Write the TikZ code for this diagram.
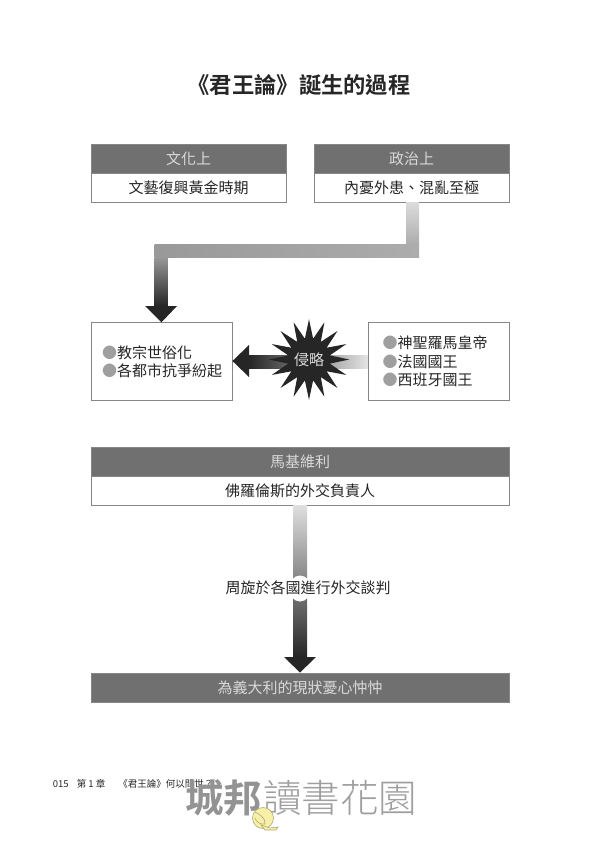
\documentclass[tikz,border=0pt]{standalone}
\usepackage{fontspec}
\setmainfont{Noto Sans CJK TC}[BoldFont=Noto Sans CJK TC Bold]
\newfontfamily\lightcjk{Noto Sans CJK TC Light}
\usetikzlibrary{shapes.geometric}
\definecolor{headgray}{HTML}{707070}
\definecolor{linegray}{HTML}{868686}
\definecolor{inkgray}{HTML}{262626}
\definecolor{snailyellow}{HTML}{F8F0A8}
\tikzset{
	headbox/.style={rectangle,fill=headgray,draw=linegray,text=white!85!black,minimum height=29pt,inner sep=0pt,font=\fontsize{15}{15}\selectfont},
	bodybox/.style={rectangle,fill=white,draw=linegray,text=inkgray,minimum height=29pt,inner sep=0pt,font=\fontsize{15}{15}\selectfont},
	listbox/.style={rectangle,fill=white,draw=linegray,text=inkgray,minimum height=78pt,align=left,font=\fontsize{15}{18.5}\selectfont},
	snailpart/.style={fill=snailyellow,draw=black!30!snailyellow,line width=0.6pt}
}
\newcommand{\bul}{{\color{gray!75}●}}
\begin{document}
\begin{tikzpicture}[x=1pt,y=-1pt,line width=0.9pt]
	\useasboundingbox (0,0) rectangle (600,841);
	\node [text=inkgray,font=\fontsize{22.3}{22.3}\bfseries\selectfont] (title) at (299,85) {《君王論》誕生的過程};

	\node [headbox,minimum width=195pt] (culturehead) at (188.5,158.5) {文化上};
	\node [bodybox,minimum width=195pt] (culture) at (188.5,188) {文藝復興黃金時期};
	\node [headbox,minimum width=195pt] (politicshead) at (411.5,158.5) {政治上};
	\node [bodybox,minimum width=195pt] (politics) at (411.5,188) {內憂外患、混亂至極};

	\node [listbox,text width=119pt,inner xsep=11pt] (church) at (161.5,361.7) {\bul 教宗世俗化\\\bul 各都市抗爭紛起};
	\node [listbox,text width=112pt,inner xsep=14.5pt] (kings) at (438.5,361.7) {\bul 神聖羅馬皇帝\\\bul 法國國王\\\bul 西班牙國王};

	\node [headbox,minimum width=418pt] (machihead) at (300,461.5) {馬基維利};
	\node [bodybox,minimum width=418pt] (machi) at (300,490.5) {佛羅倫斯的外交負責人};
	\node [headbox,minimum width=418pt] (italy) at (300,687.5) {為義大利的現狀憂心忡忡};

	\coordinate (bendright) at (412.5,250.5);
	\coordinate (bendleft) at (161,250.5);
	\shade [top color=gray!28,bottom color=gray!65] ([xshift=-6.5pt]bendright |- politics.south) rectangle ([xshift=6.5pt,yshift=6.5pt]bendright);
	\shade [left color=gray!80,right color=gray!65] ([xshift=-6.5pt,yshift=6.5pt]bendleft) rectangle ([xshift=6.5pt,yshift=-6.5pt]bendright);
	\shade [top color=gray!80,bottom color=inkgray] ([xshift=-6.5pt,yshift=-6.5pt]bendleft) rectangle (167.5,306);
	\fill [inkgray] (145,306) -- (177,306) -- (church.north) -- cycle;

	\shade [left color=inkgray,right color=gray!22] (249,355) rectangle (kings.west |- 0,368);
	\fill [inkgray] (249,345) -- (249,377) -- (church.east |- 0,361) -- cycle;
	\node [star,star points=16,star point ratio=1.9,fill=inkgray,text=white!85!black,minimum size=78pt,inner sep=0pt,font=\fontsize{15}{15}\selectfont] (invade) at (309,359.5) {侵略};

	\coordinate (machitip) at (300,657);
	\shade [top color=gray!25,bottom color=inkgray] ([xshift=-7pt]machi.south) rectangle ([xshift=7pt]machitip);
	\fill [inkgray] ([xshift=-16pt]machitip) -- ([xshift=16pt]machitip) -- (italy.north) -- cycle;
	\fill [white] (300,588.5) ellipse (11 and 13);
	\node [text=inkgray,font=\fontsize{15}{15}\selectfont] (talks) at (308,588) {周旋於各國進行外交談判};

	\node [anchor=west,text=inkgray,inner sep=0pt,font=\fontsize{9.5}{10}\selectfont] (footer) at (52.5,784) {015\hspace{8pt}第 1 章\hspace{13pt}《君王論》何以問世？};
	\node [anchor=west,text=gray!85,inner sep=0pt,font=\fontsize{38.5}{38}\bfseries\selectfont] (brand) at (185,797.5) {城邦};
	\node [anchor=west,text=gray!75,inner sep=0pt,font=\fontsize{38.5}{38}\lightcjk\selectfont] (garden) at (brand.east) {讀書花園};
	\draw [snailpart] (263,818) circle (10.5);
	\draw [snailpart] (261,825) -- (270,828) -- (278,827) -- (276,830) -- (265,830) -- cycle;
	\draw [draw=black!30!snailyellow,line width=0.6pt] (255,812) .. controls (259,814) and (266,818) .. (265,824) .. controls (261,825) and (256,822) .. (255,818);
\end{tikzpicture}
\end{document}
